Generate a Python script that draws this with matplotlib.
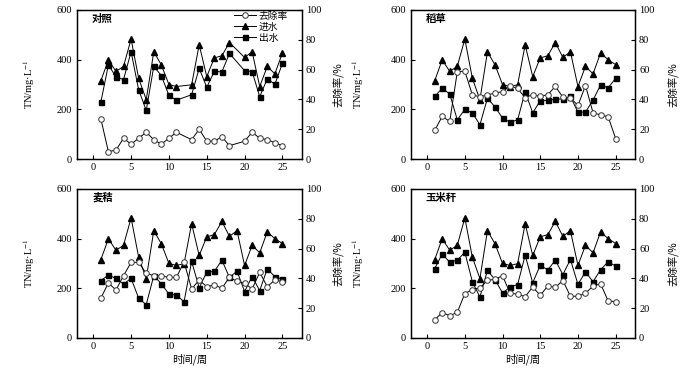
"""TN in inlet/outlet water and TN removal rate over 25 weeks, four treatments."""

import matplotlib as mpl
mpl.use("Agg")
import matplotlib.pyplot as plt

# ---- data ----
WEEKS = list(range(1, 26))
# control panel skips weeks 12 and 19
WEEKS_CK = [1, 2, 3, 4, 5, 6, 7, 8, 9, 10, 11, 13, 14, 15, 16, 17, 18, 20, 21, 22, 23, 24, 25]

INLET = [315, 399, 353, 373, 483, 325, 239, 432, 379, 300, 292, 299, 460,
         332, 407, 416, 469, 409, 432, 292, 373, 343, 427, 400, 380]
INLET_CK = [315, 399, 353, 373, 483, 325, 239, 432, 379, 300, 292, 299,
            460, 332, 407, 416, 469, 409, 432, 292, 373, 343, 427]

OUT_CK = [229, 379, 331, 320, 432, 279, 196, 373, 336, 256, 237, 259,
          365, 289, 353, 351, 425, 356, 352, 251, 323, 301, 385]
RATE_CK = [27, 5, 6, 14, 10, 14, 18, 13, 10, 14, 18, 13,
           20, 12, 12, 15, 9, 12, 18, 14, 13, 11, 9]

OUT_RICE = [252, 285, 262, 158, 200, 186, 138, 245, 210, 165, 148, 158, 271,
            186, 235, 236, 241, 242, 252, 189, 189, 238, 298, 287, 325]
RATE_RICE = [19.2, 28.6, 25.3, 58.6, 59.0, 43.0, 41.8, 43.0, 44.3, 45.2, 49.2, 47.4,
             41.1, 43.3, 42.0, 43.3, 48.7, 41.6, 41.1, 36.0, 49.3, 31.1, 29.6, 28.4, 13.8]

OUT_WHEAT = [231, 253, 240, 217, 240, 160, 134, 251, 218, 177, 172, 146, 308,
             202, 265, 268, 313, 244, 269, 187, 247, 191, 278, 247, 236]
RATE_WHEAT = [26.7, 36.9, 32.2, 41.8, 50.7, 50.7, 43.3, 41.8, 41.6, 40.7, 40.7, 51.1,
              32.9, 38.9, 34.4, 35.6, 33.3, 40.7, 38.0, 36.7, 32.9, 44.0, 34.4, 38.9, 37.8]

OUT_CORN = [279, 338, 305, 313, 345, 226, 165, 272, 235, 181, 205, 215, 333,
            222, 293, 274, 313, 255, 316, 216, 266, 226, 275, 306, 290]
RATE_CORN = [12.2, 17.0, 15.0, 17.2, 29.8, 32.5, 33.6, 38.6, 39.4, 41.8, 30.0, 29.4,
             27.7, 34.2, 28.6, 34.9, 34.0, 38.5, 28.0, 28.0, 30.0, 34.9, 36.3, 24.9, 24.4]

TITLES = ["对照", "稻草", "麦秸", "玉米秆"]
LEGEND_LABELS = ["去除率", "进水", "出水"]
X_TICKS = [0, 5, 10, 15, 20, 25]
TN_TICKS = [0, 200, 400, 600]
RATE_TICKS = [0, 20, 40, 60, 80, 100]

SERIF = "Liberation Serif"
CJK = ["Noto Sans CJK SC", "DejaVu Sans"]


def style() -> None:
    mpl.rcParams.update({
        "font.family": SERIF,
        "mathtext.fontset": "stix",
        "axes.linewidth": 0.9,
        "axes.edgecolor": "black",
        "xtick.direction": "in",
        "ytick.direction": "in",
        "xtick.major.size": 3,
        "ytick.major.size": 3,
        "xtick.major.width": 0.8,
        "ytick.major.width": 0.8,
        "xtick.labelsize": 7.5,
        "ytick.labelsize": 7.5,
    })


def panel(fig, rect, weeks, inlet, outlet, rate, title, ylab_x, rlab_x,
          xlabel=False, legend=False):
    ax = fig.add_axes(rect)
    ax2 = ax.twinx()

    h_in, = ax.plot(weeks, inlet, color="black", lw=0.7, marker="^", ms=4.3,
                    mfc="black", mec="black", zorder=3)
    h_out, = ax.plot(weeks, outlet, color="black", lw=0.7, marker="s", ms=3.6,
                     mfc="black", mec="black", zorder=3)
    h_rate, = ax2.plot(weeks, rate, color="black", lw=0.7, marker="o", ms=4.0,
                       mfc="white", mec="#333333", mew=0.7, zorder=4)

    ax.set_xlim(-2.15, 27.55)
    ax.set_ylim(0, 600)
    ax2.set_ylim(0, 100)
    ax.set_xticks(X_TICKS)
    ax.set_yticks(TN_TICKS)
    ax2.set_yticks(RATE_TICKS)
    ax.tick_params(axis="x", pad=3)
    ax2.tick_params(axis="y", pad=3)

    ax.set_ylabel("TN/mg·L$^{-1}$", fontsize=7.5, family=SERIF)
    ax.yaxis.set_label_coords(ylab_x, 0.5)
    ax2.set_ylabel("去除率/%", fontsize=7.5, family=CJK)
    ax2.yaxis.set_label_coords(rlab_x, 0.5)

    ax.text(0.067, 0.94, title, transform=ax.transAxes, fontsize=7.5,
            family=CJK, fontweight="bold", ha="left", va="center")

    if xlabel:
        ax.set_xlabel("时间/周", fontsize=7.5, family=CJK, labelpad=2)

    if legend:
        ax2.legend([h_rate, h_in, h_out], LEGEND_LABELS, loc="upper right",
                   bbox_to_anchor=(0.94, 0.995), frameon=False,
                   prop={"family": CJK, "size": 7}, handlelength=2.3,
                   handletextpad=0.3, labelspacing=0.1, borderpad=0,
                   borderaxespad=0)
    return ax


def main() -> None:
    style()
    fig = plt.figure(figsize=(7.0, 3.7), dpi=100)

    panel(fig, [0.110, 0.570, 0.321, 0.403], WEEKS_CK, INLET_CK, OUT_CK, RATE_CK,
          TITLES[0], -0.178, 1.133, legend=True)
    panel(fig, [0.587, 0.570, 0.320, 0.403], WEEKS, INLET, OUT_RICE, RATE_RICE,
          TITLES[1], -0.20, 1.143)
    panel(fig, [0.110, 0.0865, 0.321, 0.403], WEEKS, INLET, OUT_WHEAT, RATE_WHEAT,
          TITLES[2], -0.178, 1.133, xlabel=True)
    panel(fig, [0.587, 0.0865, 0.320, 0.403], WEEKS, INLET, OUT_CORN, RATE_CORN,
          TITLES[3], -0.20, 1.143, xlabel=True)

    fig.savefig("out.png", dpi=100)
    plt.close(fig)


if __name__ == "__main__":
    main()
